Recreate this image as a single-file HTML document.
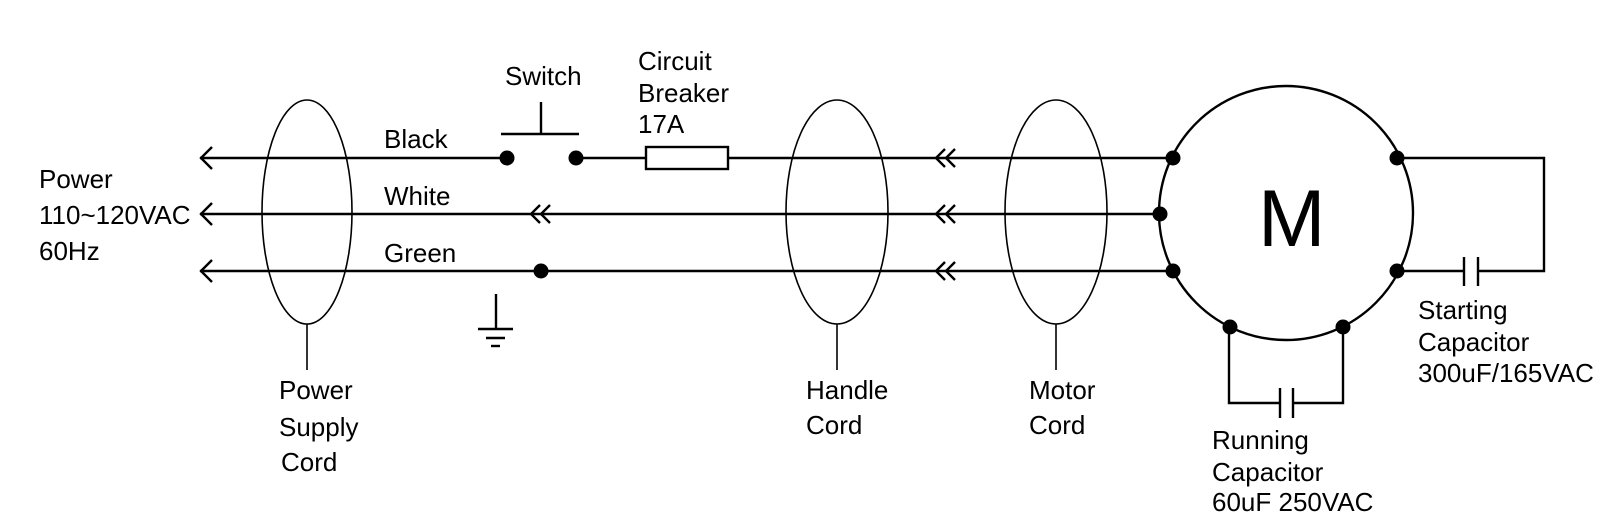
<!DOCTYPE html>
<html><head><style>
html,body{margin:0;padding:0;background:#fff;}
svg{display:block;}
text{font-family:"Liberation Sans",Arial,sans-serif;font-size:26px;fill:#000;}
</style></head><body>
<svg width="1600" height="530" viewBox="0 0 1600 530" xmlns="http://www.w3.org/2000/svg">
<g stroke="#000" stroke-width="2.4" fill="none">
<line x1="200" y1="158" x2="507" y2="158"/>
<line x1="576" y1="158" x2="1173" y2="158"/>
<line x1="200" y1="214" x2="1160" y2="214"/>
<line x1="200" y1="271" x2="1173" y2="271"/>
<polyline points="212,147 201,158 212,169"/>
<polyline points="212,203 201,214 212,225"/>
<polyline points="212,260 201,271 212,282"/>
<polyline points="540,205 531,214 540,223"/><polyline points="550,205 541,214 550,223"/>
<polyline points="945,149 936,158 945,167"/><polyline points="955,149 946,158 955,167"/>
<polyline points="945,205 936,214 945,223"/><polyline points="955,205 946,214 955,223"/>
<polyline points="945,262 936,271 945,280"/><polyline points="955,262 946,271 955,280"/>
<ellipse cx="307" cy="212" rx="45" ry="112" stroke-width="1.6"/>
<line x1="307" y1="324" x2="307" y2="370" stroke-width="1.6"/>
<ellipse cx="837" cy="212" rx="51" ry="112" stroke-width="1.6"/>
<line x1="837" y1="324" x2="837" y2="370" stroke-width="1.6"/>
<ellipse cx="1056" cy="212" rx="51" ry="112" stroke-width="1.6"/>
<line x1="1056" y1="324" x2="1056" y2="370" stroke-width="1.6"/>
<line x1="501" y1="134" x2="579" y2="134"/>
<line x1="541" y1="102" x2="541" y2="134"/>
<rect x="646" y="147" width="82" height="22" fill="#fff"/>
<line x1="496" y1="294" x2="496" y2="329"/>
<line x1="478" y1="329" x2="513" y2="329"/>
<line x1="486" y1="338" x2="505" y2="338"/>
<line x1="491" y1="346" x2="500" y2="346"/>
<circle cx="1286" cy="213" r="127"/>
<polyline points="1397,158 1544,158 1544,271 1478,271"/>
<line x1="1397" y1="271" x2="1464" y2="271"/>
<line x1="1464" y1="257" x2="1464" y2="286"/>
<line x1="1478" y1="257" x2="1478" y2="286"/>
<polyline points="1229,327 1229,403 1280,403"/>
<polyline points="1343,327 1343,403 1293,403"/>
<line x1="1280" y1="388" x2="1280" y2="418"/>
<line x1="1293" y1="388" x2="1293" y2="418"/>
</g>
<g fill="#000">
<circle cx="507" cy="158" r="7.5"/>
<circle cx="576" cy="158" r="7.5"/>
<circle cx="541" cy="271" r="7.5"/>
<circle cx="1173" cy="158" r="7.5"/>
<circle cx="1160" cy="214" r="7.5"/>
<circle cx="1173" cy="271" r="7.5"/>
<circle cx="1397" cy="158" r="7.5"/>
<circle cx="1397" cy="271" r="7.5"/>
<circle cx="1230" cy="327" r="7.5"/>
<circle cx="1343" cy="327" r="7.5"/>
</g>
<text x="39" y="188">Power</text>
<text x="39" y="224">110~120VAC</text>
<text x="39" y="260">60Hz</text>
<text x="384" y="148">Black</text>
<text x="384" y="205">White</text>
<text x="384" y="262">Green</text>
<text x="505" y="85">Switch</text>
<text x="638" y="70">Circuit</text>
<text x="638" y="102">Breaker</text>
<text x="638" y="133">17A</text>
<text x="279" y="399">Power</text>
<text x="279" y="436">Supply</text>
<text x="281" y="471">Cord</text>
<text x="806" y="399">Handle</text>
<text x="806" y="434">Cord</text>
<text x="1029" y="399">Motor</text>
<text x="1029" y="434">Cord</text>
<text x="1258" y="246" style="font-size:81px">M</text>
<text x="1418" y="319">Starting</text>
<text x="1418" y="351">Capacitor</text>
<text x="1418" y="382">300uF/165VAC</text>
<text x="1212" y="449">Running</text>
<text x="1212" y="481">Capacitor</text>
<text x="1212" y="511">60uF 250VAC</text>
</svg>
</body></html>
